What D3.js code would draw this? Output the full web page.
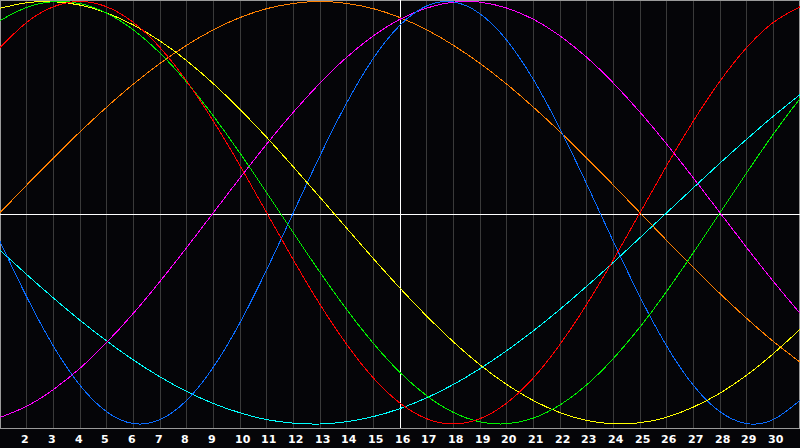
<!DOCTYPE html>
<html>
<head>
<meta charset="utf-8">
<script src="https://cdn.jsdelivr.net/npm/d3@7"></script>
<style>
  html, body { margin: 0; padding: 0; background: #050508; }
  svg { display: block; }
</style>
</head>
<body>
<div id="chart"></div>
<script>
// Days of the month (x positions) and the labelled ones
const days = [1, 2, 3, 4, 5, 6, 7, 8, 9, 10, 11, 12, 13, 14, 15, 16, 17, 18, 19, 20, 21, 22, 23, 24, 25, 26, 27, 28, 29, 30, 31];
const tickDays = [2, 3, 4, 5, 6, 7, 8, 9, 10, 11, 12, 13, 14, 15, 16, 17, 18, 19, 20, 21, 22, 23, 24, 25, 26, 27, 28, 29, 30];
const today = 16;

// Cycle values per day (-1 .. 1)
const physical = [-0.136, -0.398, -0.631, -0.817, -0.942, -0.998, -0.979, -0.888, -0.731, -0.520, -0.270, 0, 0.270, 0.520, 0.731, 0.888, 0.979, 0.998, 0.942, 0.817, 0.631, 0.398, 0.136, -0.136, -0.398, -0.631, -0.817, -0.942, -0.998, -0.979, -0.888];
const emotional = [0.782, 0.901, 0.975, 1, 0.975, 0.901, 0.782, 0.623, 0.434, 0.223, 0, -0.223, -0.434, -0.623, -0.782, -0.901, -0.975, -1, -0.975, -0.901, -0.782, -0.623, -0.434, -0.223, 0, 0.223, 0.434, 0.623, 0.782, 0.901, 0.975];
const intellectual = [0.910, 0.972, 0.999, 0.990, 0.945, 0.866, 0.756, 0.618, 0.458, 0.282, 0.095, -0.095, -0.282, -0.458, -0.618, -0.756, -0.866, -0.945, -0.990, -0.999, -0.972, -0.910, -0.815, -0.690, -0.541, -0.372, -0.189, 0, 0.189, 0.372, 0.541];
const intuitive = [-0.969, -0.916, -0.837, -0.736, -0.614, -0.476, -0.325, -0.165, 0, 0.165, 0.325, 0.476, 0.614, 0.736, 0.837, 0.916, 0.969, 0.997, 0.997, 0.969, 0.916, 0.837, 0.736, 0.614, 0.476, 0.325, 0.165, 0, -0.165, -0.325, -0.476];
const aesthetic = [0.968, 0.994, 0.999, 0.983, 0.946, 0.889, 0.813, 0.720, 0.611, 0.489, 0.357, 0.217, 0.073, -0.073, -0.217, -0.357, -0.489, -0.611, -0.720, -0.813, -0.889, -0.946, -0.983, -0.999, -0.994, -0.968, -0.920, -0.854, -0.769, -0.667, -0.552];
const awareness = [0, 0.131, 0.259, 0.383, 0.5, 0.609, 0.707, 0.793, 0.866, 0.924, 0.966, 0.991, 1, 0.991, 0.966, 0.924, 0.866, 0.793, 0.707, 0.609, 0.5, 0.383, 0.259, 0.131, 0, -0.131, -0.259, -0.383, -0.5, -0.609, -0.707];
const spiritual = [-0.177, -0.292, -0.403, -0.509, -0.607, -0.697, -0.777, -0.846, -0.903, -0.947, -0.979, -0.996, -1, -0.989, -0.965, -0.927, -0.876, -0.813, -0.738, -0.653, -0.559, -0.457, -0.348, -0.235, -0.118, 0, 0.118, 0.235, 0.348, 0.457, 0.559];

const seriesNames = ['spiritual', 'awareness', 'intuitive', 'physical', 'aesthetic', 'intellectual', 'emotional'];
const seriesValues = [spiritual, awareness, intuitive, physical, aesthetic, intellectual, emotional];
const seriesColors = ['#00ffff', '#ff8000', '#ff00ff', '#0a6cff', '#ffff00', '#00f000', '#ff0000'];

// Layout
const width = 800;
const height = 448;
const plotH = 428;

const x = d3.scaleLinear().domain([1, 31]).range([0, width]);
const y = d3.scaleLinear().domain([-1, 1]).range([424, 1.5]);

const svg = d3.select('#chart')
    .append('svg')
    .attr('width', width)
    .attr('height', height);

svg.append('rect')
    .attr('width', width)
    .attr('height', height)
    .attr('fill', '#050508');

svg.append('defs').append('clipPath')
    .attr('id', 'plot')
    .append('rect')
    .attr('width', width)
    .attr('height', plotH);

// Day grid lines
svg.selectAll('.grid')
    .data(tickDays.filter(d => d !== today))
    .enter()
    .append('line')
    .attr('class', 'grid')
    .attr('x1', d => Math.floor(x(d)) + 0.5)
    .attr('x2', d => Math.floor(x(d)) + 0.5)
    .attr('y1', 0)
    .attr('y2', plotH)
    .attr('stroke', '#3a3a3a')
    .attr('stroke-width', 1);

// Frame + axis line
svg.append('rect')
    .attr('x', 0.5)
    .attr('y', 0.5)
    .attr('width', width - 1)
    .attr('height', plotH)
    .attr('fill', 'none')
    .attr('stroke', '#9a9a9a')
    .attr('stroke-width', 1);

// Zero line and today marker
svg.append('line')
    .attr('x1', 0).attr('x2', width)
    .attr('y1', plotH / 2 + 0.5).attr('y2', plotH / 2 + 0.5)
    .attr('stroke', '#ffffff');

svg.append('line')
    .attr('x1', Math.floor(x(today)) + 0.5)
    .attr('x2', Math.floor(x(today)) + 0.5)
    .attr('y1', 0).attr('y2', plotH)
    .attr('stroke', '#ffffff');

// Cycle curves
const line = d3.line()
    .x((d, i) => x(days[i]))
    .y(d => y(d))
    .curve(d3.curveNatural);

svg.append('g')
    .attr('clip-path', 'url(#plot)')
    .selectAll('path')
    .data(seriesValues)
    .enter()
    .append('path')
    .attr('class', (d, i) => seriesNames[i])
    .attr('d', line)
    .attr('fill', 'none')
    .attr('stroke', (d, i) => seriesColors[i])
    .attr('stroke-width', 1)
    .style('shape-rendering', 'crispEdges');

// Day labels
svg.selectAll('.dayLabel')
    .data(tickDays)
    .enter()
    .append('text')
    .attr('class', 'dayLabel')
    .attr('x', d => Math.floor(x(d)) - 5)
    .attr('y', 443)
    .attr('fill', '#ffffff')
    .style('font-family', '"DejaVu Sans", Verdana, sans-serif')
    .style('font-size', '11px')
    .style('font-weight', 'bold')
    .text(d => d);
</script>
</body>
</html>
